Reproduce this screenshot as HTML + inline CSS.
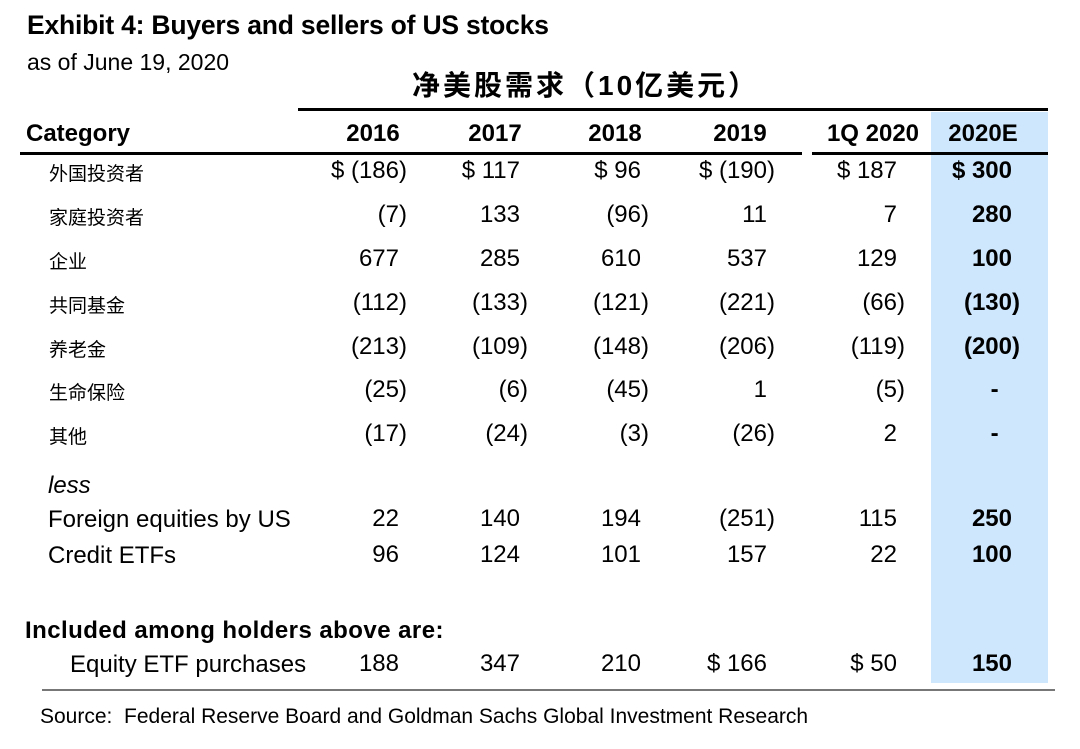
<!DOCTYPE html>
<html><head><meta charset="utf-8"><style>
body{margin:0;width:1080px;height:749px;background:#fff;position:relative;overflow:hidden;font-family:"Liberation Sans","Noto Sans CJK SC",sans-serif;color:#000}
.a{position:absolute;white-space:nowrap;line-height:1}
.r{text-align:right}
.c{text-align:center}
.ln{position:absolute;background:#000}
.h{visibility:hidden}
</style></head><body>
<div class="a" style="left:27px;top:12px;font-size:26.5px;font-weight:bold;letter-spacing:-0.2px">Exhibit 4: Buyers and sellers of US stocks</div>
<div class="a" style="left:27px;top:51px;font-size:23px">as of June 19, 2020</div>
<div class="a" style="left:412px;top:72px;font-size:28px;font-weight:bold;letter-spacing:3px">净美股需求（10亿美元）</div>
<div style="position:absolute;left:931px;top:112px;width:117px;height:571px;background:#cfe7fc"></div>
<div class="ln" style="left:298px;top:108px;width:750px;height:3px"></div>
<div class="ln" style="left:20px;top:152px;width:782px;height:3px"></div>
<div class="ln" style="left:812px;top:152px;width:236px;height:3px"></div>
<div class="ln" style="left:42px;top:689px;width:1013px;height:2px;background:#777"></div>
<div class="a" style="left:26px;top:122px;font-size:24px;font-weight:bold">Category</div>
<div class="a" style="left:48px;top:474px;font-size:24px;font-style:italic">less</div>
<div class="a" style="left:25px;top:619px;font-size:24px;font-weight:bold;letter-spacing:0.45px">Included among holders above are:</div>
<div class="a" style="left:40px;top:706px;font-size:21px">Source:&nbsp; Federal Reserve Board and Goldman Sachs Global Investment Research</div>
<div id="t"></div>
<script>
const columns=["2016","2017","2018","2019","1Q 2020","2020E"];
const rowLabels=["外国投资者","家庭投资者","企业","共同基金","养老金","生命保险","其他","Foreign equities by US","Credit ETFs","Equity ETF purchases"];
const values=[
["$ (186)","$ 117","$ 96","$ (190)","$ 187","$ 300"],
["(7)","133","(96)","11","7","280"],
["677","285","610","537","129","100"],
["(112)","(133)","(121)","(221)","(66)","(130)"],
["(213)","(109)","(148)","(206)","(119)","(200)"],
["(25)","(6)","(45)","1","(5)","-"],
["(17)","(24)","(3)","(26)","2","-"],
["22","140","194","(251)","115","250"],
["96","124","101","157","22","100"],
["188","347","210","$ 166","$ 50","150"]];
const rowY=[172,216,260,304,348,391,435,520,556,665];
const colRight=[407,528,649,775,905,1020];
const colCenter=[373,495,615,740,873,983];
const t=document.getElementById('t');
columns.forEach((c,i)=>{
 const d=document.createElement('div');d.className='a c';
 d.style.cssText=`left:${colCenter[i]-70}px;width:140px;top:122px;font-size:24px;font-weight:bold`;
 d.textContent=c;
 
 
 t.appendChild(d);
});
rowLabels.forEach((l,r)=>{
 const cjk=r<7;
 const d=document.createElement('div');d.className='a';
 d.style.cssText=`left:${r==9?70:(cjk?49:48)}px;top:${rowY[r]-(cjk?7:12)}px;font-size:${cjk?19:24}px`;
 d.textContent=l;
 
 
 t.appendChild(d);
 values[r].forEach((v,c)=>{
  const e=document.createElement('div');e.className='a r';
  e.style.cssText=`left:${colRight[c]-150}px;width:150px;top:${rowY[r]-13}px;font-size:24px;${c==5?'font-weight:bold;':''}`;
  const par=v.endsWith(')');
  e.innerHTML=v+(par?'':(v=='-'?'<span class="h">0)</span>':'<span class="h">)</span>'));
  
  
  t.appendChild(e);
 });
});
</script>
</body></html>
